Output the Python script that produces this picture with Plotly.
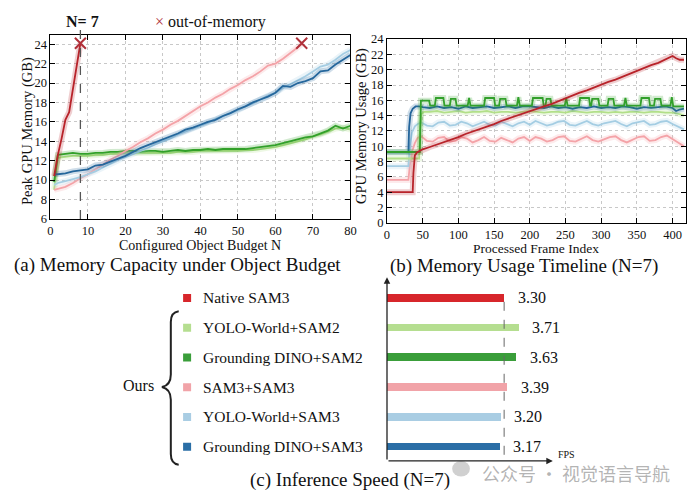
import plotly.graph_objects as go

W, H = 700, 500
def px(x):
    return x / W
def py(y):
    return 1 - y / H

FONT = "Liberation Serif, Times New Roman, serif"

# ---------------- colours ----------------
C_RED = "#b8232a"
C_RED_BAR = "#d7262b"
C_LGREEN = "#b2df8a"
C_GREEN = "#33a02c"
C_PINK = "#f4a3a8"
C_LBLUE = "#a6cee3"
C_DBLUE = "#25679c"

# ---------------- (a) data ----------------
budget_n = [1, 2, 4, 6, 8, 10, 12, 14, 16, 18, 20, 22, 24, 26, 28, 30, 32, 34, 36, 38, 40,
            42, 44, 46, 48, 50, 52, 54, 56, 58, 60, 62, 64, 66, 68, 70, 72, 74, 76, 78, 80]
peak_gdino_sam3 = [10.6, 10.6, 10.7, 10.9, 11.0, 11.1, 11.5, 11.6, 11.9, 12.2, 12.5, 12.9, 13.3, 13.6,
                   13.9, 14.2, 14.5, 14.8, 15.2, 15.4, 15.7, 16.0, 16.2, 16.6, 16.9, 17.3, 17.6, 18.0,
                   18.3, 18.6, 19.0, 19.7, 19.6, 20.0, 20.2, 20.5, 21.2, 21.3, 21.9, 22.4, 22.9]
peak_yolo_sam3 = [9.5, 9.7, 9.9, 10.1, 10.3, 10.6, 10.9, 11.3, 11.7, 12.1, 12.4, 12.7, 13.0, 13.3,
                  13.7, 14.0, 14.3, 14.7, 15.0, 15.3, 15.6, 15.9, 16.3, 16.6, 16.9, 17.2, 17.6, 17.9,
                  18.3, 18.7, 19.0, 19.5, 19.9, 20.3, 20.7, 21.2, 21.7, 21.9, 22.4, 23.0, 23.4]
peak_gdino_sam2 = [9.8, 12.6, 12.7, 12.8, 12.7, 12.7, 12.8, 12.8, 12.9, 12.9, 13.0, 13.0, 12.9, 13.0,
                   13.0, 12.9, 13.0, 13.1, 13.0, 13.1, 13.1, 13.2, 13.1, 13.2, 13.2, 13.2, 13.2, 13.3,
                   13.4, 13.5, 13.6, 13.8, 14.0, 14.2, 14.4, 14.5, 14.8, 15.1, 15.6, 15.3, 15.6]
peak_yolo_sam2 = [9.0, 12.3, 12.4, 12.5, 12.5, 12.5, 12.6, 12.6, 12.7, 12.7, 12.8, 12.8, 12.8, 12.8,
                  12.8, 12.8, 12.8, 12.9, 12.9, 12.9, 13.0, 13.0, 13.0, 13.0, 13.0, 13.0, 13.1, 13.1,
                  13.2, 13.3, 13.4, 13.6, 13.8, 14.0, 14.2, 14.5, 14.7, 15.0, 15.3, 15.4, 15.2]
sam3sam3_n = [1, 2, 4, 6, 8, 10, 12, 14, 16, 18, 20, 22, 24, 26, 28, 30, 32, 34, 36, 38, 40,
              42, 44, 46, 48, 50, 52, 54, 56, 58, 60, 62, 64, 66, 67]
peak_sam3_sam3 = [9.0, 9.1, 9.3, 9.7, 10.2, 10.6, 11.1, 11.6, 12.1, 12.5, 13.0, 13.4, 13.9, 14.3,
                  14.8, 15.2, 15.7, 16.1, 16.6, 17.1, 17.6, 18.0, 18.5, 18.9, 19.4, 19.8, 20.3, 20.7,
                  21.2, 21.8, 22.0, 22.5, 23.1, 23.7, 24.0]
native_n = [1, 2, 3, 4, 5, 6, 7, 8]
peak_native = [10.4, 12.6, 14.3, 16.2, 17.0, 19.4, 21.8, 24.1]
oom_n = [8, 67]
oom_mem = [24.1, 24.1]
budget_marker = 8

# ---------------- (b) data ----------------
fr_native = [0, 36, 37, 39, 42, 50, 60, 70, 80, 90, 100, 110, 120, 130, 140, 150, 160, 170, 180, 190,
             200, 210, 220, 230, 240, 250, 260, 270, 280, 290, 300, 310, 320, 330, 340, 350, 360,
             370, 380, 390, 400, 405, 410, 416]
mem_native = [4.0, 4.0, 6.5, 8.8, 9.2, 9.6, 9.9, 10.2, 10.6, 10.9, 11.2, 11.6, 11.9, 12.3, 12.6, 12.9,
              13.3, 13.6, 13.9, 14.2, 14.5, 14.9, 15.2, 15.5, 15.9, 16.2, 16.6, 17.0, 17.3, 17.7,
              18.1, 18.4, 18.7, 19.1, 19.5, 19.9, 20.2, 20.6, 20.9, 21.3, 21.8, 21.5, 21.3, 21.3]

fr_dblue = [0, 30, 31, 33, 36, 40, 45, 50, 60, 70, 80, 90, 100, 110, 120, 130, 140, 150, 160, 170,
            180, 190, 200, 210, 220, 230, 240, 250, 260, 270, 280, 290, 300, 310, 320, 330, 340,
            350, 360, 370, 380, 390, 400, 405, 410, 416]
mem_dblue = [9.2, 9.2, 12.5, 14.3, 14.9, 15.2, 15.2, 15.1, 15.0, 15.2, 15.0, 15.1, 14.9, 15.2, 15.0,
             15.1, 15.2, 15.0, 15.1, 15.2, 15.0, 15.2, 15.2, 15.1, 15.0, 15.2, 15.0, 15.1, 14.9, 15.1,
             15.0, 15.2, 15.0, 15.1, 15.0, 15.2, 15.1, 14.9, 15.1, 15.0, 15.1, 15.2, 15.0, 14.6, 14.8,
             14.9]

fr_green = [0, 46, 47.5, 59, 60.5, 67, 68.5, 79, 80.5, 88, 89.5, 96, 97.5, 113, 115, 117, 136, 137.5,
            150, 151.5, 157, 158.5, 166, 167.5, 182, 184, 186, 203, 204.5, 218, 219.5, 222, 223.5,
            229, 230.5, 249, 251, 253, 269, 270.5, 283, 284.5, 286, 287.5, 296, 297.5, 309, 310.5,
            317, 318.5, 332, 334, 336, 355, 356.5, 367, 368.5, 374, 375.5, 383, 384.5, 397, 399,
            401, 416]
mem_green = [9.25, 9.25, 15.95, 15.95, 15.3, 15.3, 16.3, 16.3, 15.3, 15.3, 16.2, 16.2, 15.3, 15.3,
             16.3, 15.3, 15.3, 16.3, 16.3, 15.3, 15.3, 16.2, 16.2, 15.3, 15.3, 16.4, 15.3, 15.3,
             16.3, 16.3, 15.3, 15.3, 16.2, 16.2, 15.3, 15.3, 16.3, 15.3, 15.3, 16.3, 16.3, 15.3,
             15.3, 16.2, 16.2, 15.3, 15.3, 16.2, 16.2, 15.3, 15.3, 16.3, 15.3, 15.3, 16.3, 16.3,
             15.3, 15.3, 16.2, 16.2, 15.3, 15.3, 16.4, 15.2, 15.2]

fr_lgreen = [0, 45, 46, 48, 52, 60, 70, 80, 90, 100, 110, 120, 130, 140, 150, 160, 170, 180, 190,
             200, 210, 220, 230, 240, 250, 260, 270, 280, 290, 300, 310, 320, 330, 340, 350, 360,
             370, 380, 390, 400, 410, 416]
mem_lgreen = [8.4, 8.4, 12.0, 14.2, 14.5, 14.5, 14.6, 14.4, 14.5, 14.6, 14.4, 14.5, 14.5, 14.6, 14.4,
              14.5, 14.5, 14.4, 14.5, 14.6, 14.5, 14.4, 14.5, 14.5, 14.4, 14.6, 14.5, 14.4, 14.5,
              14.5, 14.4, 14.5, 14.4, 14.5, 14.5, 14.4, 14.5, 14.5, 14.4, 14.4, 14.2, 14.0]

fr_osc = [0, 30, 32, 35, 39, 43, 48, 56, 64, 72, 80, 88, 96, 104, 112, 120, 128, 136, 144, 152, 160,
          168, 176, 184, 192, 200, 208, 216, 224, 232, 240, 248, 256, 264, 272, 280, 288, 296, 304,
          312, 320, 328, 336, 344, 352, 360, 368, 376, 384, 392, 400, 408, 416]
mem_pink = [5.6, 5.6, 7.5, 9.3, 10.4, 11.1, 11.3, 10.7, 10.6, 11.1, 11.2, 10.6, 10.7, 11.2, 11.0,
            10.5, 10.8, 11.2, 10.7, 10.6, 11.1, 10.8, 10.5, 11.0, 11.2, 10.7, 11.2, 11.0, 10.6, 10.8,
            11.2, 11.3, 10.7, 10.6, 11.0, 11.3, 10.8, 10.6, 10.9, 11.2, 11.3, 10.8, 10.5, 10.9, 11.2,
            11.3, 10.7, 10.8, 11.2, 11.4, 10.9, 10.4, 10.0]
mem_lblue = [7.4, 7.4, 10.0, 11.8, 12.6, 12.9, 13.1, 12.7, 12.6, 13.1, 13.2, 12.7, 12.8, 13.2, 13.0,
             12.6, 12.9, 13.2, 12.8, 12.7, 13.2, 12.9, 12.6, 13.0, 13.2, 12.8, 13.3, 13.0, 12.7, 12.9,
             13.2, 13.3, 12.8, 12.7, 13.0, 13.3, 12.9, 12.7, 13.0, 13.2, 13.3, 12.9, 12.6, 13.0, 13.2,
             13.3, 12.8, 12.9, 13.2, 13.3, 12.9, 12.5, 12.2]

# ---------------- (c) data ----------------
methods = ["Native SAM3", "YOLO-World+SAM2", "Grounding DINO+SAM2", "SAM3+SAM3",
           "YOLO-World+SAM3", "Grounding DINO+SAM3"]
fps = [3.30, 3.71, 3.63, 3.39, 3.20, 3.17]
bar_colors = [C_RED_BAR, "#b5de90", "#3a9e3a", "#f1a3a8", "#a9cde3", "#2a6ea6"]

fig = go.Figure()

def add_line(x, y, color, xa, ya, width=1.8, halo=True):
    if halo:
        fig.add_trace(go.Scatter(x=x, y=y, mode="lines", xaxis=xa, yaxis=ya,
                                 line=dict(color=color, width=6), opacity=0.22,
                                 hoverinfo="skip", showlegend=False))
    fig.add_trace(go.Scatter(x=x, y=y, mode="lines", xaxis=xa, yaxis=ya,
                             line=dict(color=color, width=width), showlegend=False))

# (a)
add_line(budget_n, peak_yolo_sam2, C_LGREEN, "x", "y")
add_line(budget_n, peak_gdino_sam2, C_GREEN, "x", "y")
add_line(sam3sam3_n, peak_sam3_sam3, C_PINK, "x", "y")
add_line(budget_n, peak_yolo_sam3, C_LBLUE, "x", "y")
add_line(budget_n, peak_gdino_sam3, C_DBLUE, "x", "y")
add_line(native_n, peak_native, C_RED, "x", "y")
fig.add_trace(go.Scatter(x=oom_n, y=oom_mem, mode="markers", xaxis="x", yaxis="y",
                         marker=dict(symbol="x-thin", size=11, color="#b0303a",
                                     line=dict(width=2, color="#b0303a")),
                         showlegend=False))

# (b)
add_line(fr_osc, mem_pink, C_PINK, "x2", "y2")
add_line(fr_osc, mem_lblue, C_LBLUE, "x2", "y2")
add_line(fr_lgreen, mem_lgreen, C_LGREEN, "x2", "y2")
add_line(fr_dblue, mem_dblue, C_DBLUE, "x2", "y2")
add_line(fr_green, mem_green, C_GREEN, "x2", "y2")
add_line(fr_native, mem_native, C_RED, "x2", "y2")

# (c)
bar_pos = list(range(len(methods)))
fig.add_trace(go.Scatter(x=[186.5] * len(methods), y=bar_pos, mode="markers",
                         xaxis="x4", yaxis="y3",
                         marker=dict(symbol="square", size=8, color=bar_colors),
                         showlegend=False))
fig.add_trace(go.Bar(x=fps, y=bar_pos, orientation="h", xaxis="x3", yaxis="y3",
                     marker=dict(color=bar_colors, line=dict(width=0)), width=0.26,
                     showlegend=False))

frame_axis = dict(showline=True, linecolor="black", linewidth=1, mirror="allticks",
                  ticks="inside", ticklen=5, tickcolor="black", showgrid=True,
                  gridcolor="#c8c8c8", griddash="dot", gridwidth=1, zeroline=False,
                  tickfont=dict(family=FONT, size=12.5, color="#111"))

Y_TOP_C, Y_BOT_C = -0.696, 5.48
X_MAX_C = (557 - 389) / 35.96

fig.update_layout(
    width=W, height=H, margin=dict(l=0, r=0, t=0, b=0),
    paper_bgcolor="white", plot_bgcolor="rgba(0,0,0,0)",
    font=dict(family=FONT, color="#111"),
    xaxis=dict(domain=[px(48), px(352)], range=[0, 80], dtick=10, anchor="y", **frame_axis),
    yaxis=dict(domain=[py(218), py(28.3)], range=[6, 25], tickvals=list(range(6, 25, 2)),
               anchor="x", **frame_axis),
    xaxis2=dict(domain=[px(389), px(692)], range=[0, 419], tickvals=list(range(0, 401, 50)),
                anchor="y2", **frame_axis),
    yaxis2=dict(domain=[py(222), py(33)], range=[0, 24], dtick=2, anchor="x2", **frame_axis),
    xaxis3=dict(domain=[px(389), px(557)], range=[0, X_MAX_C], visible=False, anchor="y3"),
    yaxis3=dict(domain=[py(467), py(278)], range=[Y_BOT_C, Y_TOP_C], visible=False, anchor="x3"),
    xaxis4=dict(domain=[0, 1], range=[0, W], visible=False, anchor="y3"),
    bargap=0,
)

ann = []
def text(x, y, s, size, color="#111", family=FONT, xanchor="center", **kw):
    d = dict(x=px(x), y=py(y), xref="paper", yref="paper", text=s, showarrow=False,
             xanchor=xanchor, yanchor="middle",
             font=dict(family=family, size=size, color=color))
    d.update(kw)
    ann.append(d)

# titles
text(177, 265, "(a) Memory Capacity under Object Budget", 19)
text(528, 266, "(b) Memory Usage Timeline (N=7)", 19)
text(352, 487, "(c) Inference Speed (N=7)", 19)
# axis titles
text(200, 245, "Configured Object Budget N", 14)
text(25, 128, "Peak GPU Memory (GB)", 14.5, textangle=-90)
text(540, 248, "Processed Frame Index", 13.5)
text(363, 122, "GPU Memory Usage (GB)", 14.5, textangle=-90)
# (a) annotations
text(81, 15, "<b>N= 7</b>", 16)
text(152, 15, '<span style="color:#b0303a">×</span> out-of-memory', 16, xanchor="left")

# (c) labels
for i, (m, v) in enumerate(zip(methods, fps)):
    ann.append(dict(x=201, y=i, xref="x4", yref="y3", text=m, showarrow=False,
                    xanchor="left", yanchor="middle",
                    font=dict(family=FONT, size=15.5, color="#111")))
    ann.append(dict(x=v + 0.33, y=i, xref="x3", yref="y3", text=f"{v:.2f}", showarrow=False,
                    xanchor="left", yanchor="middle",
                    font=dict(family=FONT, size=16, color="#111")))
text(137, 389, "Ours", 16)
# axis arrows
ann.append(dict(x=0, y=Y_TOP_C, ax=0, ay=Y_BOT_C, xref="x3", yref="y3", axref="x3", ayref="y3",
                text="", showarrow=True, arrowhead=2, arrowsize=1, arrowwidth=1.3,
                arrowcolor="#222", standoff=0, startstandoff=0))
ann.append(dict(x=X_MAX_C, y=Y_BOT_C, ax=0, ay=Y_BOT_C, xref="x3", yref="y3", axref="x3",
                ayref="y3", text="", showarrow=True, arrowhead=2, arrowsize=1, arrowwidth=1.3,
                arrowcolor="#222", standoff=0, startstandoff=0))
text(560, 460, "FPS", 10, xanchor="left")
# watermark
text(483, 479, "公众号 · 视觉语言导航", 18, color="rgba(130,130,130,0.6)",
     family="Noto Sans CJK SC", xanchor="left")

fig.update_layout(annotations=ann)

shapes = []
# dashed line at budget marker in (a)
shapes.append(dict(type="line", xref="x", yref="paper", x0=budget_marker, x1=budget_marker,
                   y0=py(218), y1=py(22), line=dict(color="#555", width=1.3, dash="dash")))
# dashed reference at Native SAM3 FPS
shapes.append(dict(type="line", xref="x3", yref="y3", x0=fps[0], x1=fps[0], y0=0.13,
                   y1=Y_BOT_C, line=dict(color="#666", width=1, dash="dash")))
# brace
pts = [(178, 313), (170, 314), (170, 324), (170, 378), (170, 389), (161, 391), (170, 393),
       (170, 404), (170, 460), (170, 470), (178, 471)]
P = [(px(a), py(b)) for a, b in pts]
path = (f"M {P[0][0]} {P[0][1]} Q {P[1][0]} {P[1][1]} {P[2][0]} {P[2][1]} "
        f"L {P[3][0]} {P[3][1]} Q {P[4][0]} {P[4][1]} {P[5][0]} {P[5][1]} "
        f"Q {P[6][0]} {P[6][1]} {P[7][0]} {P[7][1]} L {P[8][0]} {P[8][1]} "
        f"Q {P[9][0]} {P[9][1]} {P[10][0]} {P[10][1]}")
shapes.append(dict(type="path", xref="paper", yref="paper", path=path,
                   line=dict(color="#222", width=2)))
# watermark icon
shapes.append(dict(type="circle", xref="paper", yref="paper", x0=px(455), x1=px(473),
                   y0=py(483), y1=py(467), line=dict(width=0),
                   fillcolor="rgba(150,150,150,0.45)"))
fig.update_layout(shapes=shapes)

fig.write_html("out.html", config={"displayModeBar": False},
               post_script="document.body.style.margin='0px';"
                           "document.body.style.overflow='hidden';")
